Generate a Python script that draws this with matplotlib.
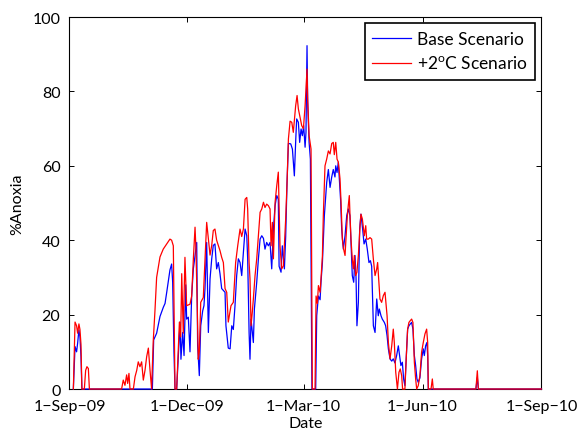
import numpy as np
import matplotlib
matplotlib.use("Agg")
import matplotlib.pyplot as plt
import matplotlib.dates as mdates
from datetime import datetime

plt.rcParams['font.family'] = ['Lato', 'DejaVu Sans']
plt.rcParams['mathtext.fontset'] = 'custom'
plt.rcParams['mathtext.rm'] = 'Lato'

# days since 1-Sep-2009, %anoxia
warm_day = [3.0, 4.3, 5.5, 6.3, 7.3, 8.1, 8.9, 9.6, 11.5, 12.5, 13.5, 14.6, 15.4,
            40.3, 41.6, 42.9, 44.2, 45.0, 46.0, 46.8, 49.4, 50.7, 52.0, 53.2, 54.5,
            55.8, 57.1, 58.4, 59.7, 61.0, 62.3, 63.5, 64.8, 66.1, 67.4, 70.0, 72.5,
            75.2, 77.7, 79.0, 80.3, 81.6, 82.9, 85.0, 86.0, 86.8, 88.0, 89.3, 90.6,
            93.2, 94.5, 95.8, 97.1, 97.8, 98.9, 99.6, 100.4, 101.5, 103.5, 104.8,
            106.1, 107.4, 108.7, 110.0, 111.2, 112.5, 113.8, 115.1, 116.4, 117.7,
            119.0, 120.3, 121.6, 122.8, 124.9, 126.7, 128.5, 130.1, 131.9, 133.2,
            134.5, 135.8, 137.1, 137.8, 138.9, 139.6, 140.4, 141.4, 142.2, 143.5,
            144.8, 146.1, 147.4, 148.7, 150.0, 151.2, 152.5, 153.8, 155.1, 155.9,
            156.9, 157.7, 159.0, 160.3, 161.5, 162.8, 164.1, 165.4, 167.2, 168.2,
            169.3, 170.6, 171.9, 173.1, 174.9, 176.0, 177.0, 178.3, 179.6, 180.9,
            182.2, 182.9, 183.7, 184.2, 185.3, 186.8, 187.8, 189.9, 190.7, 191.7,
            192.5, 193.8, 194.5, 195.6, 196.3, 197.6, 198.9, 200.2, 201.5, 202.8,
            204.0, 204.8, 205.9, 206.9, 207.9, 209.2, 210.0, 211.0, 212.0, 213.1,
            213.8, 214.9, 215.6, 216.4, 216.9, 217.7, 218.7, 219.5, 220.3, 221.3,
            222.3, 223.4, 224.7, 225.4, 226.5, 228.0, 229.1, 229.8, 231.1, 232.4,
            233.7, 235.0, 236.3, 237.6, 238.3, 239.4, 240.1, 241.4, 242.7, 244.0,
            245.6, 246.6, 247.9, 249.2, 250.4, 251.2, 252.3, 253.6, 254.8, 255.8,
            256.9, 257.6, 259.4, 260.5, 261.5, 262.5, 263.6, 264.6, 265.6, 266.7,
            267.7, 268.5, 269.7, 271.0, 272.3, 273.6, 274.9, 276.2, 277.0, 277.5,
            279.6, 280.6, 281.3, 314.3, 315.4, 316.2, 365.0]
warm_pct = [0, 18, 17, 15, 17.5, 16, 12, 0, 0, 5, 6, 5.5, 0,
            0, 2.4, 1, 3.8, 1.5, 4.2, 0, 0, 3.3, 5, 7.3, 6,
            7.3, 2.4, 5, 8.7, 11, 5, 0, 13, 21, 30, 35.5, 37.6,
            39, 40.3, 40, 38.5, 0, 0, 18, 14, 31, 15, 35.4, 22.4,
            22.8, 25, 35, 43.5, 37.6, 20.6, 8, 10, 23.3, 24.6, 35,
            44.8, 40.3, 36, 38.6, 42.6, 43, 40, 38.6, 37.2, 35.4,
            34, 27, 26, 18, 22.4, 23.3, 34, 38.5, 43, 41,
            43, 51, 51.5, 48.4, 34, 29.6, 17, 20.7, 24.2, 30.5,
            35, 41.2, 47.5, 48.4, 50.2, 48.8, 49.7, 49.3, 48.4, 38.5,
            44.8, 35, 50.2, 54.7, 58.3, 38.5, 32.3, 33.1, 45.7, 55,
            67.2, 72, 71.7, 69, 76.1, 78.9, 75.3, 73.1, 70.8, 70,
            76.1, 80.6, 86, 78, 68.1, 64.5, 0, 0, 25, 23,
            27.8, 26, 29.6, 35.8, 46.6, 60, 61.8, 64, 63.2, 66,
            66.3, 63, 66.3, 61.8, 61, 56.5, 50.2, 40.3, 37.6, 35.9,
            40.3, 46.6, 49.3, 52, 47, 40.3, 34.9, 32.3, 35.9, 30.5,
            31.4, 35.9, 43.9, 47, 45.7, 41.2, 43.9, 40.3, 40.3, 40.7,
            40.3, 34.9, 30.5, 32.3, 34, 27.8, 24.2, 23.3, 25.1, 26,
            19.7, 12.5, 8.1, 11.6, 16.1, 12.5, 4.5, 0, 4.5, 5.4,
            3.6, 0, 0, 9, 16.1, 17.9, 18.4, 18.8, 17.9, 7.2,
            2.7, 0, 0.9, 3.6, 9.9, 12.5, 14.8, 16.1, 12.5, 0,
            0, 2.7, 0, 0, 4.9, 0, 0]

base_day = [3.0, 4.3, 5.5, 6.3, 7.3, 8.1, 8.9, 9.6, 64.1, 65.1, 67.4, 70.0, 72.6,
            73.9, 75.2, 77.7, 79.0, 79.8, 80.8, 81.6, 82.9, 84.2, 85.5, 86.2, 87.5,
            88.6, 89.9, 90.6, 91.9, 93.2, 94.5, 95.8, 97.1, 98.4, 99.1, 100.4, 101.5,
            103.0, 104.0, 104.8, 106.1, 107.4, 108.7, 110.0, 111.2, 112.5, 113.8,
            115.1, 116.4, 117.7, 120.3, 121.0, 122.8, 124.2, 125.5, 126.7, 128.0,
            129.3, 130.6, 131.9, 133.2, 134.5, 135.8, 137.1, 137.8, 138.9, 139.6,
            140.4, 141.4, 142.2, 143.0, 144.8, 146.1, 147.4, 148.7, 150.0, 151.2,
            152.5, 153.8, 155.1, 156.4, 157.7, 159.0, 160.3, 161.5, 162.1, 163.6,
            164.6, 166.2, 167.2, 168.2, 169.3, 171.1, 172.4, 173.9, 175.0, 175.7,
            177.0, 178.0, 179.1, 180.1, 181.1, 182.2, 182.9, 183.7, 184.2, 185.3,
            186.3, 187.5, 190.4, 191.2, 192.5, 193.8, 194.5, 195.6, 197.1, 198.9,
            200.2, 201.5, 202.8, 204.0, 205.3, 205.9, 206.9, 207.9, 208.9, 209.7,
            210.5, 211.8, 213.1, 214.4, 215.6, 216.9, 217.7, 218.7, 219.8, 220.8,
            221.6, 222.3, 223.4, 224.4, 225.4, 226.7, 227.8, 229.1, 230.3, 231.6,
            232.7, 233.7, 235.0, 236.3, 237.6, 238.8, 239.6, 240.9, 241.9, 243.5,
            244.5, 245.6, 246.6, 247.9, 249.2, 250.4, 251.7, 253.0, 254.3, 255.3,
            256.3, 257.4, 258.4, 259.4, 260.5, 261.5, 262.5, 263.6, 264.6, 265.6,
            266.7, 267.7, 268.7, 269.7, 271.0, 272.3, 273.6, 274.4, 275.4, 276.4,
            277.0, 277.5, 314.3, 315.4, 316.2, 365.0]
base_pct = [0, 11.4, 10, 12.3, 15.9, 14, 8.7, 0, 0, 13.2, 15, 19.5, 22,
            23, 26, 32, 33.6, 28.7, 10, 0, 0, 9, 18, 8, 15.2,
            9, 28, 18.8, 19.3, 10, 25, 32.3, 35.8, 39.4, 11.7, 3.6, 17,
            21, 22.4, 27, 39.4, 15.2, 29.6, 35, 38.6, 39, 32.3,
            34, 31, 27, 26, 17, 11, 10.8, 17, 16, 22.4,
            30.5, 35, 34, 30.5, 36.8, 43, 41.2, 35, 15.2, 8,
            18.8, 15.2, 12.5, 21.5, 28.7, 35, 40.3, 41.2, 40.5, 37.6,
            39.4, 38.5, 39.4, 32.3, 43, 49.3, 52, 51, 33, 31.4,
            38.5, 32.3, 41, 55, 66, 65.9, 64.5, 57.3, 67.2, 72.6,
            71.7, 66.3, 69.9, 68.1, 70.8, 65, 69, 92.3, 77, 66.3,
            61.8, 0, 0, 19.7, 25, 24, 28.7, 34, 46.6, 55.5,
            59, 54.2, 57, 59, 57, 60, 58.2, 61, 55, 50.6,
            43, 37.6, 41.2, 46.6, 48.4, 46.6, 39.4, 30.5, 28.7, 35.9,
            30, 17, 23.3, 43, 47, 43, 39, 40.3, 37.6, 34,
            34.5, 33, 17, 15.2, 24.2, 19.7, 21.5, 19.7, 18.8, 17.9,
            17, 14.3, 10.8, 8.1, 7.5, 8.1, 7, 9, 11.6, 9,
            6.3, 7.2, 2.7, 0.9, 9, 16.1, 17, 17.5, 17.9, 16.1,
            9, 6.3, 2.7, 1.8, 3, 8.1, 10.8, 9, 11.6, 12.5,
            9, 0, 0, 3.1, 0, 0]

tick_dates = [datetime(2009, 9, 1), datetime(2009, 12, 1), datetime(2010, 3, 1),
              datetime(2010, 6, 1), datetime(2010, 9, 1)]
tick_labels = ['1\u2212Sep\u221209', '1\u2212Dec\u221209', '1\u2212Mar\u221210',
               '1\u2212Jun\u221210', '1\u2212Sep\u221210']

t0 = mdates.date2num(datetime(2009, 9, 1))
base_t = t0 + np.array(base_day)
warm_t = t0 + np.array(warm_day)

fig = plt.figure(figsize=(5.78, 4.31), dpi=100)
ax = fig.add_axes([0.1202, 0.0951, 0.8166, 0.8631])

ax.plot(base_t, base_pct, color='#0000ff', lw=0.9, label='Base Scenario',
        clip_on=False, zorder=3)
ax.plot(warm_t, warm_pct, color='#ff0000', lw=0.9, label='+2$^{\\mathrm{o}}$C Scenario',
        clip_on=False, zorder=4)

ax.set_xlim(mdates.date2num(tick_dates[0]), mdates.date2num(tick_dates[-1]))
ax.set_ylim(0, 100)
ax.set_xticks(mdates.date2num(tick_dates))
ax.set_xticklabels(tick_labels)
ax.set_yticks([0, 20, 40, 60, 80, 100])
ax.tick_params(direction='in', top=True, right=True, length=3.6, width=0.7,
               labelsize=11.5)
ax.tick_params(axis='x', pad=7)
ax.tick_params(axis='y', pad=6.5)
for s in ax.spines.values():
    s.set_linewidth(0.8)

ax.set_xlabel('Date', fontsize=11.5, labelpad=2)
ax.set_ylabel('%Anoxia', fontsize=11.5, labelpad=6)

leg = ax.legend(loc='upper right', fontsize=12.5, fancybox=False, framealpha=1,
                edgecolor='black', handlelength=2.2, handletextpad=0.35,
                borderpad=0.45, labelspacing=0.45, borderaxespad=0.37)
leg.get_frame().set_linewidth(1.2)

fig.savefig('out.png', dpi=100)
